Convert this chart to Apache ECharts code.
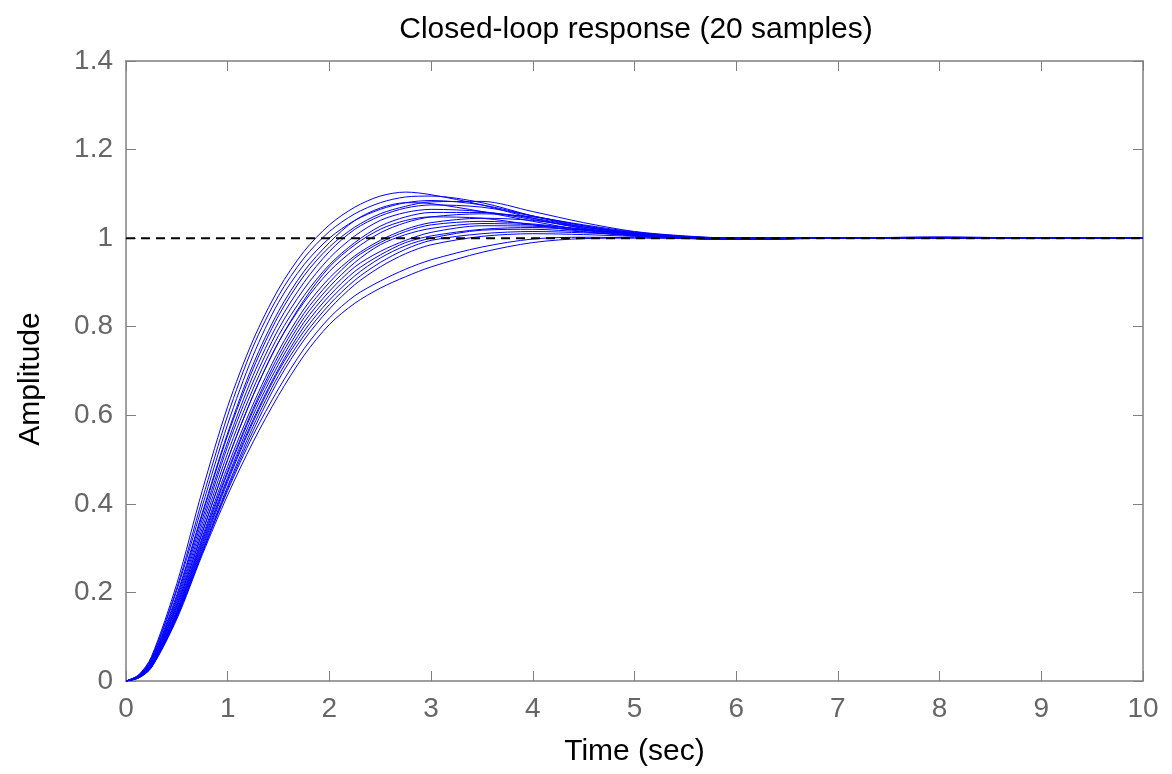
<!DOCTYPE html>
<html>
<head>
<meta charset="utf-8">
<script src="https://cdn.jsdelivr.net/npm/echarts@6/dist/echarts.min.js"></script>
<style>html,body{margin:0;padding:0;background:#fff}#c{width:1172px;height:774px}</style>
</head>
<body>
<div id="c"></div>
<script>
const titleText = 'Closed-loop response (20 samples)';
const xName = 'Time (sec)';
const yName = 'Amplitude';
const xTicks = [0,1,2,3,4,5,6,7,8,9,10];
const yTicks = [0,0.2,0.4,0.6,0.8,1,1.2,1.4];
const time = [0,0.125,0.25,0.5,0.75,1,1.25,1.5,1.75,2,2.25,2.5,2.75,3,3.5,4,4.5,5,5.5,6,7,8,9,10];
const reference = [1,1];
const referenceTime = [0,10];

const s01 = [0,0.014,0.055,0.22,0.43,0.62,0.77,0.885,0.97,1.03,1.07,1.095,1.104,1.098,1.075,1.045,1.022,1.008,1.0,0.997,1.0,1.0,1.0,1.0];
const s02 = [0,0.013,0.052,0.21,0.41,0.6,0.755,0.87,0.955,1.015,1.055,1.08,1.093,1.095,1.08,1.05,1.025,1.01,1.002,0.998,1.0,1.0,1.0,1.0];
const s03 = [0,0.013,0.05,0.205,0.395,0.58,0.735,0.855,0.94,1.0,1.04,1.065,1.08,1.085,1.075,1.05,1.028,1.012,1.003,0.999,1.0,1.0,1.0,1.0];
const s04 = [0,0.012,0.046,0.19,0.375,0.555,0.705,0.825,0.915,0.98,1.025,1.055,1.072,1.082,1.083,1.06,1.035,1.015,1.005,1.0,1.0,1.0,1.0,1.0];
const s05 = [0,0.012,0.047,0.195,0.38,0.56,0.715,0.835,0.925,0.99,1.04,1.068,1.08,1.078,1.06,1.038,1.018,1.006,1.0,0.997,1.0,1.0,1.0,1.0];
const s06 = [0,0.011,0.045,0.185,0.365,0.54,0.69,0.81,0.9,0.97,1.02,1.05,1.068,1.075,1.07,1.05,1.028,1.012,1.003,0.999,1.0,1.0,1.0,1.0];
const s07 = [0,0.011,0.043,0.18,0.355,0.53,0.675,0.795,0.885,0.955,1.005,1.04,1.058,1.065,1.06,1.042,1.022,1.008,1.0,0.997,1.0,1.0,1.0,1.0];
const s08 = [0,0.01,0.041,0.175,0.345,0.515,0.66,0.78,0.87,0.94,0.99,1.027,1.048,1.058,1.058,1.045,1.025,1.01,1.002,0.998,1.0,1.0,1.0,1.0];
const s09 = [0,0.01,0.04,0.17,0.335,0.5,0.645,0.765,0.855,0.925,0.975,1.012,1.035,1.048,1.055,1.048,1.03,1.014,1.004,1.0,1.0,1.0,1.0,1.0];
const s10 = [0,0.01,0.039,0.17,0.335,0.5,0.645,0.765,0.86,0.935,0.985,1.02,1.04,1.048,1.045,1.03,1.015,1.005,0.999,0.997,1.0,1.0,1.0,1.0];
const s11 = [0,0.009,0.038,0.165,0.325,0.485,0.625,0.745,0.84,0.91,0.96,0.995,1.02,1.035,1.045,1.04,1.025,1.012,1.003,1.0,1.0,1.0,1.0,1.0];
const s12 = [0,0.009,0.036,0.16,0.32,0.475,0.615,0.735,0.83,0.9,0.955,0.99,1.015,1.03,1.038,1.032,1.02,1.008,1.0,0.998,1.0,1.0,1.0,1.0];
const s13 = [0,0.009,0.036,0.158,0.315,0.47,0.61,0.725,0.82,0.89,0.945,0.985,1.008,1.022,1.033,1.03,1.02,1.01,1.003,1.0,1.0,1.0,1.0,1.0];
const s14 = [0,0.008,0.035,0.155,0.31,0.46,0.6,0.715,0.81,0.88,0.935,0.97,0.995,1.013,1.028,1.027,1.018,1.008,1.001,0.999,1.0,1.0,1.0,1.0];
const s15 = [0,0.008,0.034,0.152,0.305,0.455,0.59,0.705,0.8,0.87,0.925,0.962,0.99,1.005,1.02,1.024,1.018,1.01,1.003,1.0,1.0,1.0,1.0,1.0];
const s16 = [0,0.008,0.033,0.15,0.3,0.45,0.585,0.7,0.79,0.86,0.915,0.955,0.983,1.0,1.018,1.02,1.014,1.006,1.0,0.998,1.0,1.0,1.0,1.0];
const s17 = [0,0.008,0.032,0.148,0.295,0.44,0.575,0.69,0.78,0.85,0.905,0.945,0.975,0.995,1.01,1.015,1.012,1.007,1.002,1.0,1.0,1.0,1.0,1.0];
const s18 = [0,0.007,0.031,0.145,0.29,0.435,0.565,0.68,0.77,0.84,0.895,0.935,0.965,0.985,1.004,1.01,1.008,1.004,1.001,1.0,1.0,1.003,1.0,1.0];
const s19 = [0,0.007,0.031,0.143,0.29,0.43,0.555,0.66,0.75,0.82,0.87,0.903,0.93,0.951,0.98,0.998,1.002,1.001,1.0,0.999,1.0,1.0,1.0,1.0];
const s20 = [0,0.007,0.03,0.14,0.285,0.42,0.54,0.645,0.735,0.805,0.853,0.887,0.913,0.935,0.968,0.99,0.999,1.0,1.0,0.998,1.0,1.0,1.0,1.0];
const samples = [s01,s02,s03,s04,s05,s06,s07,s08,s09,s10,s11,s12,s13,s14,s15,s16,s17,s18,s19,s20];

const chart = echarts.init(document.getElementById('c'), null, {renderer: 'canvas'});
const fnt = 'Liberation Sans, Arial, sans-serif';
const axisGray = '#7f7f7f';
const labelGray = '#666666';

const series = samples.map(function (arr, i) {
  return {
    type: 'line',
    name: 'sample ' + (i + 1),
    data: time.map(function (t, k) { return [t, arr[k]]; }),
    showSymbol: false,
    symbol: 'none',
    smooth: 0.3,
    lineStyle: {color: '#0000ff', width: 1},
    silent: true,
    z: 2
  };
});
series.push({
  type: 'line',
  name: 'reference',
  data: referenceTime.map(function (t, k) { return [t, reference[k]]; }),
  showSymbol: false,
  symbol: 'none',
  lineStyle: {color: '#000000', width: 2, type: [9, 6]},
  silent: true,
  z: 5
});

const option = {
  backgroundColor: '#ffffff',
  animation: false,
  title: {
    text: titleText,
    left: 631, top: 10, textAlign: 'center',
    textStyle: {fontFamily: fnt, fontSize: 30, fontWeight: 'normal', color: '#000'}
  },
  grid: {left: 126, right: 29, top: 61, bottom: 93, containLabel: false},
  xAxis: [{
    type: 'value', min: 0, max: 10, interval: 1,
    name: xName, nameLocation: 'middle', nameGap: 56,
    nameTextStyle: {fontFamily: fnt, fontSize: 30, color: '#000'},
    axisLine: {show: true, onZero: false, lineStyle: {color: axisGray, width: 1.5}},
    axisTick: {show: true, inside: true, length: 10, lineStyle: {color: axisGray, width: 1}},
    axisLabel: {fontFamily: fnt, fontSize: 28, color: labelGray, margin: 14,
      formatter: function (v) { return xTicks.indexOf(v) >= 0 ? String(v) : ''; }},
    splitLine: {show: false}
  }, {
    type: 'value', min: 0, max: 10, interval: 1, position: 'top',
    axisLine: {show: true, onZero: false, lineStyle: {color: axisGray, width: 1.5}},
    axisTick: {show: true, inside: true, length: 10, lineStyle: {color: axisGray, width: 1}},
    axisLabel: {show: false}, splitLine: {show: false}
  }],
  yAxis: [{
    type: 'value', min: 0, max: 1.4, interval: 0.2,
    name: yName, nameLocation: 'middle', nameGap: 80, nameRotate: 90,
    nameTextStyle: {fontFamily: fnt, fontSize: 30, color: '#000', padding: [0, 16, 0, 0]},
    axisLine: {show: true, onZero: false, lineStyle: {color: axisGray, width: 1.5}},
    axisTick: {show: true, inside: true, length: 10, lineStyle: {color: axisGray, width: 1}},
    axisLabel: {fontFamily: fnt, fontSize: 28, color: labelGray, margin: 13,
      formatter: function (v) { var r = Math.round(v * 10) / 10; return yTicks.indexOf(r) >= 0 ? String(r) : ''; }},
    splitLine: {show: false}
  }, {
    type: 'value', min: 0, max: 1.4, interval: 0.2, position: 'right',
    axisLine: {show: true, onZero: false, lineStyle: {color: axisGray, width: 1.5}},
    axisTick: {show: true, inside: true, length: 10, lineStyle: {color: axisGray, width: 1}},
    axisLabel: {show: false}, splitLine: {show: false}
  }],
  series: series
};
chart.setOption(option);
</script>
</body>
</html>
